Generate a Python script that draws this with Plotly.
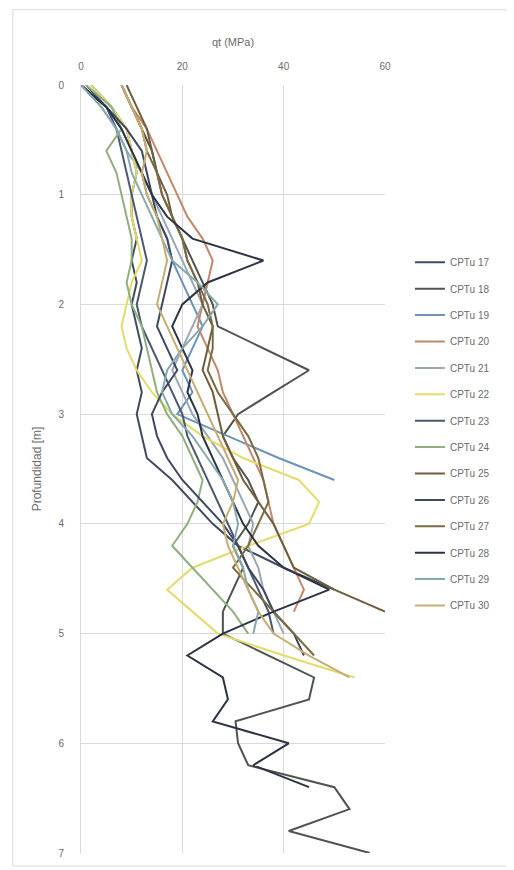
import plotly.graph_objects as go

depth = [0.0, 0.2, 0.4, 0.6, 0.8, 1.0, 1.2, 1.4, 1.6, 1.8, 2.0, 2.2, 2.4, 2.6, 2.8,
         3.0, 3.2, 3.4, 3.6, 3.8, 4.0, 4.2, 4.4, 4.6, 4.8, 5.0, 5.2, 5.4, 5.6, 5.8,
         6.0, 6.2, 6.4, 6.6, 6.8, 7.0]

names = ["CPTu 17", "CPTu 18", "CPTu 19", "CPTu 20", "CPTu 21", "CPTu 22", "CPTu 23",
         "CPTu 24", "CPTu 25", "CPTu 26", "CPTu 27", "CPTu 28", "CPTu 29", "CPTu 30"]

colors = ["#3f4b5e", "#4f554c", "#6d93b8", "#c4876a", "#9aa8b6", "#e3dc6a", "#4a5870",
          "#8fb07e", "#6e5e3e", "#3e4863", "#7b6b43", "#2c3345", "#86a9ae", "#c6ad72"]

qt_17 = [2, 6, 9, 10, 11, 10, 10, 11, 10, 11, 10, 11, 12, 11, 12, 11, 12, 13, 18, 22,
         26, 31, 40, 50]
qt_18 = [8, 10, 12, 14, 15, 16, 18, 20, 22, 24, 26, 27, 36, 45, 38, 31, 28, 30, 33, 35,
         33, 30, 32, 30, 28, 28, 37, 46, 45, 30.5, 31, 33, 50, 53, 41, 57]
qt_19 = [0, 5, 8, 10, 12, 13, 15, 17, 18, 20, 22, 24, 22, 20, 22, 19, 29, 39, 50]
qt_20 = [8, 10, 13, 15, 17, 19, 21, 24, 26, 25, 24, 23, 25, 27, 28, 30, 32, 34, 36, 37,
         38, 40, 42, 44, 42]
qt_21 = [0, 4, 7, 9, 12, 14, 16, 18, 20, 22, 24, 22, 20, 18, 20, 22, 25, 28, 30, 32,
         34, 33, 35, 36, 38, 40]
qt_22 = [2, 6, 9, 10, 11, 10, 10, 11, 12, 10, 9, 8, 9, 11, 14, 18, 24, 32, 43, 47,
         45, 33, 22, 17, 22, 27, 40, 54]
qt_23 = [1, 5, 7, 8, 9, 10, 11, 12, 13, 12, 11, 12, 14, 16, 18, 20, 21, 23, 25, 27,
         29, 31, 33, 35, 37, 38]
qt_24 = [1, 6, 8, 5, 7, 8, 9, 10, 10, 9, 10, 12, 13, 14, 15, 17, 20, 22, 24, 23,
         21, 18, 22, 26, 30, 33]
qt_25 = [9, 11, 13, 14, 15, 17, 18, 20, 21, 23, 24, 26, 25, 24, 26, 27, 28, 30, 32, 35,
         38, 40, 42, 50, 60]
qt_26 = [0, 5, 9, 12, 13, 14, 15, 17, 18, 17, 16, 15, 17, 19, 16, 14, 15, 17, 20, 24,
         28, 31, 33, 36, 38, 42, 44]
qt_27 = [8, 10, 12, 13, 15, 16, 18, 20, 21, 23, 25, 26, 26, 25, 27, 30, 33, 35, 36, 37,
         35, 33, 30, 34, 38, 42, 46]
qt_28 = [0, 5, 8, 10, 12, 14, 17, 22, 36, 25, 20, 18, 20, 22, 21, 23, 24, 26, 28, 30,
         32, 35, 40, 49, 38, 28, 21, 28, 29, 26, 41, 34, 45]
qt_29 = [0, 4, 7, 9, 10, 12, 14, 16, 18, 23, 27, 24, 20, 17, 16, 18, 22, 25, 28, 30,
         31, 30, 32, 33, 35, 34]
qt_30 = [8, 10, 12, 13, 12, 13, 15, 16, 17, 16, 15, 17, 19, 21, 23, 25, 27, 29, 31, 30,
         28, 29, 31, 33, 35, 38, 45, 53]

series = [qt_17, qt_18, qt_19, qt_20, qt_21, qt_22, qt_23,
          qt_24, qt_25, qt_26, qt_27, qt_28, qt_29, qt_30]

fig = go.Figure()
for name, col, vals in zip(names, colors, series):
    fig.add_trace(go.Scatter(
        x=vals, y=depth[:len(vals)], mode="lines", name=name,
        legendgroup=name,
        line=dict(color=col, width=2),
    ))

font_col = "#6b6b6b"
fig.update_layout(
    width=506, height=862,
    margin=dict(l=73, r=129, t=77, b=17),
    paper_bgcolor="white", plot_bgcolor="white",
    font=dict(family="Liberation Sans", size=10, color=font_col),
    showlegend=True,
    legend=dict(x=1.082, y=0.788, xanchor="left", yanchor="top",
                font=dict(size=10, color=font_col), tracegroupgap=7.4,
                bgcolor="rgba(0,0,0,0)"),
    xaxis=dict(side="top", range=[0, 60], dtick=20, showgrid=True,
               gridcolor="#d9d9d9", gridwidth=1, zeroline=False,
               showline=False, ticks="", ticklabelstandoff=12,
               title=dict(text="qt (MPa)", font=dict(size=11, color=font_col), standoff=12)),
    yaxis=dict(range=[7, 0], dtick=1, showgrid=True, gridcolor="#d9d9d9", gridwidth=1,
               zeroline=False, showline=True, linecolor="#d9d9d9", linewidth=1, ticks="",
               ticklabelstandoff=14,
               title=dict(text="Profundidad [m]", font=dict(size=12, color=font_col),
                          standoff=14)),
    shapes=[dict(type="rect", xref="paper", yref="paper",
                 x0=-0.224, x1=1.405, y0=-0.017, y1=1.098,
                 line=dict(color="#d9d9d9", width=1), fillcolor="rgba(0,0,0,0)")],
)

fig.write_html("out.html")
